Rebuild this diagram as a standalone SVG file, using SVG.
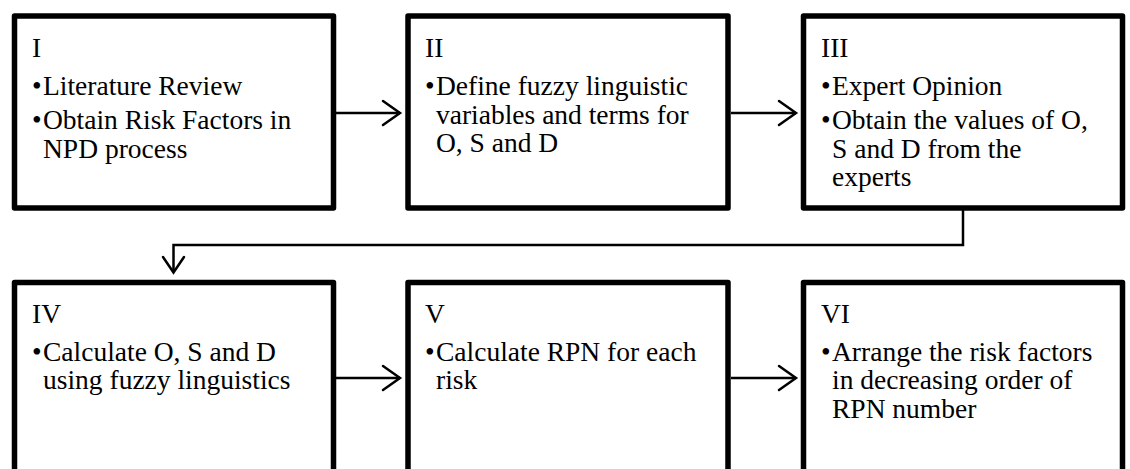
<svg xmlns="http://www.w3.org/2000/svg" width="1130" height="469" viewBox="0 0 1130 469">
  <style>
    .box { fill: #ffffff; stroke: #000000; stroke-width: 5.5; stroke-linejoin: round; }
    .t { font-family: "Liberation Serif", "Times New Roman", serif; font-size: 27.5px; fill: #000000; }
    .conn { fill: none; stroke: #000000; stroke-width: 2.5; }
    .head { fill: none; stroke: #000000; stroke-width: 2.5; stroke-linecap: round; stroke-linejoin: miter; }
  </style>

  <!-- Top row -->
  <g id="step-1">
    <rect class="box" x="14.5" y="16" width="319" height="192"/>
    <text class="t" x="32" y="57">I</text>
    <text class="t"><tspan x="32" y="95">•</tspan><tspan x="43" y="95">Literature Review</tspan></text>
    <text class="t"><tspan x="32" y="129">•</tspan><tspan x="43" y="129">Obtain Risk Factors in</tspan><tspan x="43" y="157.5">NPD process</tspan></text>
  </g>

  <g id="step-2">
    <rect class="box" x="408" y="16" width="320" height="192"/>
    <text class="t" x="425" y="57">II</text>
    <text class="t"><tspan x="425" y="95">•</tspan><tspan x="436" y="95">Define fuzzy linguistic</tspan><tspan x="436" y="123.5">variables and terms for</tspan><tspan x="436" y="152">O, S and D</tspan></text>
  </g>

  <g id="step-3">
    <rect class="box" x="803.5" y="16" width="319" height="192"/>
    <text class="t" x="821" y="57">III</text>
    <text class="t"><tspan x="821" y="95">•</tspan><tspan x="832" y="95">Expert Opinion</tspan></text>
    <text class="t"><tspan x="821" y="129">•</tspan><tspan x="832" y="129">Obtain the values of O,</tspan><tspan x="832" y="157.5">S and D from the</tspan><tspan x="832" y="186">experts</tspan></text>
  </g>

  <!-- Bottom row -->
  <g id="step-4">
    <rect class="box" x="14.5" y="282.5" width="319" height="192"/>
    <text class="t" x="32" y="322.5">IV</text>
    <text class="t"><tspan x="32" y="360.5">•</tspan><tspan x="43" y="360.5">Calculate O, S and D</tspan><tspan x="43" y="389">using fuzzy linguistics</tspan></text>
  </g>

  <g id="step-5">
    <rect class="box" x="408" y="282.5" width="320" height="192"/>
    <text class="t" x="425" y="322.5">V</text>
    <text class="t"><tspan x="425" y="360.5">•</tspan><tspan x="436" y="360.5">Calculate RPN for each</tspan><tspan x="436" y="389">risk</tspan></text>
  </g>

  <g id="step-6">
    <rect class="box" x="803.5" y="282.5" width="319" height="192"/>
    <text class="t" x="821" y="322.5">VI</text>
    <text class="t"><tspan x="821" y="360.5">•</tspan><tspan x="832" y="360.5">Arrange the risk factors</tspan><tspan x="832" y="389">in decreasing order of</tspan><tspan x="832" y="417.5">RPN number</tspan></text>
  </g>

  <!-- Connectors with open chevron heads -->
  <g id="connectors">
    <line class="conn" x1="336" y1="113" x2="400" y2="113"/>
    <path class="head" d="M383 101 L400 113 L383 125"/>

    <line class="conn" x1="731" y1="113" x2="796" y2="113"/>
    <path class="head" d="M779 101 L796 113 L779 125"/>

    <path class="conn" d="M963 210 V245 H173.5 V272"/>
    <path class="head" d="M163 257 L173.5 272.5 L184 257"/>

    <line class="conn" x1="336" y1="378" x2="400" y2="378"/>
    <path class="head" d="M383 366 L400 378 L383 390"/>

    <line class="conn" x1="731" y1="378" x2="796" y2="378"/>
    <path class="head" d="M779 366 L796 378 L779 390"/>
  </g>
</svg>
